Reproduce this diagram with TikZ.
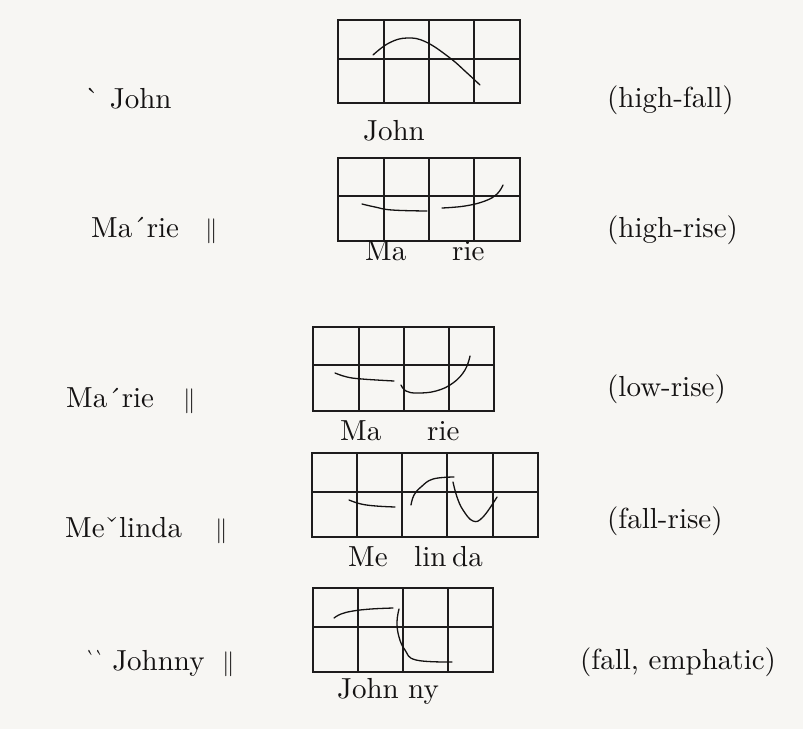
\documentclass[tikz,border=0pt]{standalone}
\usepackage{fontspec}
\setmainfont{lmroman10-regular.otf}
\usepackage{amsmath}
\usepackage{graphicx}
\definecolor{paper}{RGB}{247,246,243}
\definecolor{ink}{RGB}{20,18,18}
\definecolor{gridink}{RGB}{30,28,28}
\tikzset{
  gridline/.style={draw=gridink, line width=1.5pt},
  contour/.style={draw=ink, line width=1.3pt, line cap=round},
  lbl/.style={anchor=base west, inner sep=0pt, text=ink, font=\fontsize{29}{34}\selectfont}
}
\begin{document}
\begin{tikzpicture}[x=1pt,y=-1pt]
\fill[paper] (0,0) rectangle (803,729);
\useasboundingbox (0,0) rectangle (803,729);

% grids
\draw[gridline] (338,20) rectangle (520,103);
\draw[gridline] (338,59) -- (520,59);
\foreach \x in {384,429,474} \draw[gridline] (\x,20) -- (\x,103);

\draw[gridline] (338,158) rectangle (520,241);
\draw[gridline] (338,196) -- (520,196);
\foreach \x in {384,429,474} \draw[gridline] (\x,158) -- (\x,241);

\draw[gridline] (313,327) rectangle (494,411);
\draw[gridline] (313,365) -- (494,365);
\foreach \x in {359,404,449} \draw[gridline] (\x,327) -- (\x,411);

\draw[gridline] (312,453) rectangle (538,537);
\draw[gridline] (312,492) -- (538,492);
\foreach \x in {357,402,447,493} \draw[gridline] (\x,453) -- (\x,537);

\draw[gridline] (313,588) rectangle (493,672);
\draw[gridline] (313,627) -- (493,627);
\foreach \x in {358,403,448} \draw[gridline] (\x,588) -- (\x,672);

% pitch contours
\draw[contour] plot[smooth, tension=0.7] coordinates {(373,55) (389,43) (407,38) (426,42) (450,58) (466,72) (480,85)};
\draw[contour] plot[smooth, tension=0.7] coordinates {(362,204) (375,207) (392,210) (427,211)};
\draw[contour] plot[smooth, tension=0.7] coordinates {(442,208) (465,206) (485,201) (497,194) (503,185)};
\draw[contour] plot[smooth, tension=0.7] coordinates {(335,373) (347,377) (362,379) (394,381)};
\draw[contour] plot[smooth, tension=0.7] coordinates {(401,385) (406,391) (417,393) (436,391) (453,383) (465,370) (470,356)};
\draw[contour] plot[smooth, tension=0.7] coordinates {(349,500) (361,504) (376,506) (395,507)};
\draw[contour] plot[smooth, tension=0.7] coordinates {(411,505) (414,495) (421,487) (433,479) (454,477)};
\draw[contour] plot[smooth, tension=0.7] coordinates {(453,482) (457,497) (463,510) (473,521) (483,517) (497,497)};
\draw[contour] plot[smooth, tension=0.7] coordinates {(334,618) (341,614) (353,611) (371,609) (393,608)};
\draw[contour] plot[smooth, tension=0.7] coordinates {(399,609) (397,622) (399,637) (405,650) (416,660) (452,662)};

% syllables under grids
\node[lbl] (s1) at (363,140) {John};
\node[lbl] (s2a) at (365,260) {Ma};
\node[lbl] (s2b) at (452,260) {rie};
\node[lbl] (s3a) at (340,440) {Ma};
\node[lbl] (s3b) at (427,440) {rie};
\node[lbl] (s4a) at (348,566) {Me};
\node[lbl] (s4b) at (414,566) {lin};
\node[lbl] (s4c) at (452,566) {da};
\node[lbl] (s5a) at (337,698) {John};
\node[lbl] (s5b) at (408,698) {ny};

% transcriptions on the left
\node[lbl] (t1) at (85,108) {\`{}\kern0.35em John};
\node[lbl] (t2) at (91,237) {Ma\'{}rie};
\node[lbl] (b2) at (205,237) {$\|$};
\node[lbl] (t3) at (66,407) {Ma\raisebox{-1.5pt}{\'{}}rie};
\node[lbl] (b3) at (183,407) {$\|$};
\node[lbl] (t4) at (65,537) {Me\v{}linda};
\node[lbl] (b4) at (215,537) {$\|$};
\node[lbl] (t5) at (86,670) {\scalebox{0.6}[1]{\`{}\`{}}\kern0.3em Johnny};
\node[lbl] (b5) at (222,670) {$\|$};

% tone names on the right
\node[lbl] (n1) at (607,107) {(high-fall)};
\node[lbl] (n2) at (607,237) {(high-rise)};
\node[lbl] (n3) at (607,396) {(low-rise)};
\node[lbl] (n4) at (607,528) {(fall-rise)};
\node[lbl] (n5) at (580,669) {(fall, emphatic)};
\end{tikzpicture}
\end{document}
